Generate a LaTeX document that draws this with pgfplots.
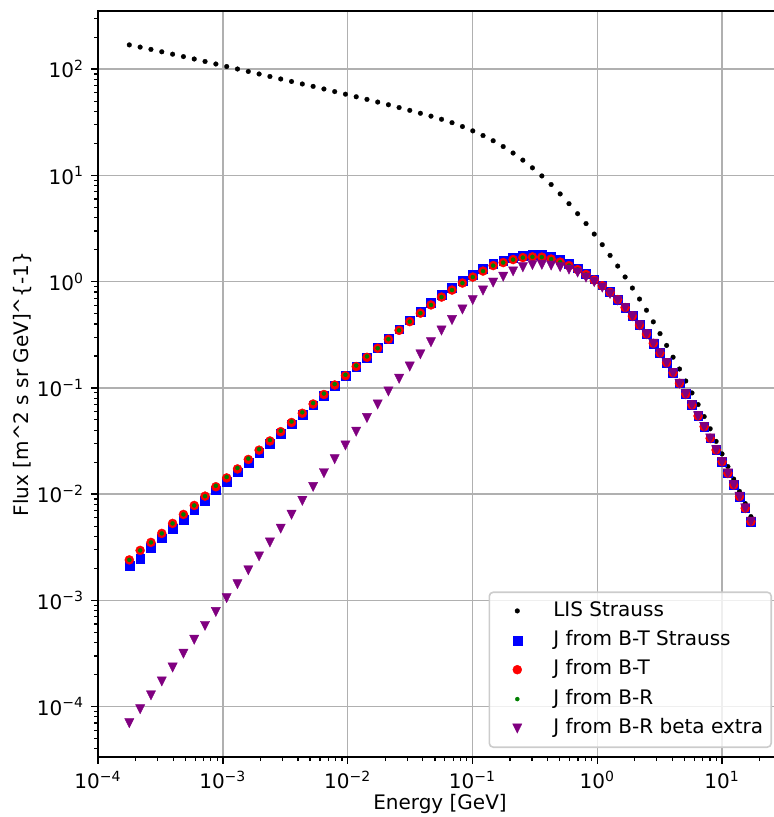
\documentclass[border=0pt]{standalone}
\usepackage{fontspec}
\setmainfont{DejaVu Sans}
\usepackage{pgfplots}
\pgfplotsset{compat=1.18}
\usepackage{pgfplotstable}
\usetikzlibrary{plotmarks}
\definecolor{gridc}{HTML}{B0B0B0}
\definecolor{legc}{HTML}{CCCCCC}
\definecolor{mblue}{rgb}{0,0,1}
\definecolor{mred}{rgb}{1,0,0}
\definecolor{mgreen}{rgb}{0,0.5,0}
\definecolor{mpurple}{rgb}{0.5,0,0.5}
\pgfdeclareplotmark{tridown}{%
  \pgfpathmoveto{\pgfqpoint{0pt}{-\pgfplotmarksize}}%
  \pgfpathlineto{\pgfqpoint{\pgfplotmarksize}{\pgfplotmarksize}}%
  \pgfpathlineto{\pgfqpoint{-\pgfplotmarksize}{\pgfplotmarksize}}%
  \pgfpathclose\pgfusepathqfillstroke}
\newcommand{\logtick}{\pgfmathtruncatemacro{\ee}{round(\tick)}10\textsuperscript{\ifnum\ee<0 −\number-\ee\else\ee\fi}}

\pgfplotstableread{
E LIS BTS BT BR BRB
1.782e-4 169.3 2.125e-3 2.404e-3 2.404e-3 6.996e-5
2.176e-4 161.4 2.458e-3 2.954e-3 2.954e-3 9.452e-5
2.656e-4 153.6 3.140e-3 3.512e-3 3.512e-3 1.277e-4
3.243e-4 145.8 3.847e-3 4.270e-3 4.270e-3 1.726e-4
3.960e-4 138.4 4.709e-3 5.303e-3 5.303e-3 2.332e-4
4.835e-4 131.4 5.778e-3 6.442e-3 6.442e-3 3.152e-4
5.901e-4 124.7 7.098e-3 7.826e-3 7.826e-3 4.259e-4
7.204e-4 118.2 8.685e-3 9.576e-3 9.576e-3 5.755e-4
8.794e-4 111.9 0.01088 0.01174 0.01197 7.776e-4
1.0736e-3 106.0 0.01317 0.01421 0.01449 1.051e-3
1.3106e-3 100.4 0.01611 0.01727 0.01762 1.420e-3
1.5999e-3 95.15 0.01986 0.02120 0.02162 1.919e-3
1.9530e-3 90.11 0.02446 0.02594 0.02646 2.594e-3
2.3839e-3 85.37 0.03005 0.03166 0.03229 3.505e-3
2.9097e-3 80.87 0.03699 0.03873 0.03950 4.736e-3
3.5512e-3 76.61 0.04544 0.04724 0.04818 6.400e-3
4.3340e-3 72.57 0.05585 0.05770 0.05885 8.650e-3
5.2890e-3 68.89 0.06873 0.07056 0.07197 0.01169
6.4533e-3 65.11 0.08503 0.08668 0.08841 0.01576
7.8729e-3 61.55 0.1051 0.1065 0.1086 0.02129
9.6033e-3 58.18 0.1294 0.1302 0.1328 0.02871
0.011712 55.00 0.1590 0.1590 0.1622 0.03873
0.014279 51.98 0.1940 0.1940 0.1979 0.05209
0.017404 49.03 0.2384 0.2363 0.2363 0.06981
0.021209 46.26 0.2921 0.2872 0.2872 0.09250
0.025832 43.53 0.3573 0.3482 0.3482 0.1218
0.031446 40.97 0.4343 0.4204 0.4204 0.1590
0.038257 38.47 0.5256 0.5054 0.5054 0.2071
0.046508 36.13 0.6302 0.6036 0.6036 0.2691
0.056489 33.78 0.7513 0.7162 0.7162 0.3467
0.068541 31.38 0.8746 0.8337 0.8337 0.4353
0.083063 28.84 1.0177 0.9701 0.9701 0.5464
0.10052 26.27 1.159 1.105 1.105 0.6712
0.12144 23.74 1.320 1.258 1.258 0.8248
0.14644 21.21 1.486 1.417 1.417 0.9806
0.17620 18.70 1.586 1.512 1.512 1.112
0.21148 16.25 1.693 1.614 1.614 1.250
0.25315 13.93 1.769 1.686 1.686 1.366
0.30213 11.79 1.795 1.711 1.711 1.433
0.35943 9.893 1.786 1.703 1.703 1.442
0.42665 8.212 1.712 1.632 1.632 1.417
0.50397 6.699 1.596 1.529 1.529 1.372
0.59310 5.418 1.469 1.417 1.417 1.299
0.69534 4.363 1.339 1.299 1.299 1.218
0.81210 3.520 1.194 1.166 1.166 1.093
0.94487 2.804 1.053 1.035 1.035 0.9913
1.0952 2.229 0.9251 0.9150 0.9150 0.8800
1.2649 1.767 0.7988 0.7932 0.7932 0.7677
1.4559 1.402 0.6785 0.6785 0.6785 0.6650
1.6701 1.107 0.5706 0.5706 0.5706 0.5669
1.9100 0.8707 0.4746 0.4746 0.4746 0.4717
2.1779 0.6861 0.3905 0.3905 0.3905 0.3880
2.4765 0.5383 0.3214 0.3214 0.3214 0.3193
2.8091 0.4185 0.2628 0.2628 0.2628 0.2605
3.1788 0.3242 0.2130 0.2130 0.2130 0.2112
3.5895 0.2511 0.1726 0.1726 0.1726 0.1708
4.0452 0.1945 0.1390 0.1390 0.1390 0.1375
4.5505 0.1506 0.1105 0.1105 0.1105 0.1095
5.1106 0.1161 0.08763 0.08763 0.08763 0.08706
5.7308 0.08972 0.06905 0.06905 0.06905 0.06877
6.4176 0.06965 0.05441 0.05441 0.05441 0.05417
7.1776 0.05370 0.04315 0.04315 0.04315 0.04296
8.0185 0.04122 0.03357 0.03357 0.03357 0.03342
8.9488 0.03138 0.02605 0.02605 0.02605 0.02594
9.9775 0.02393 0.02021 0.02021 0.02021 0.02013
11.115 0.01818 0.01573 0.01573 0.01573 0.01565
12.373 0.01387 0.01221 0.01221 0.01221 0.01218
13.763 0.01062 0.009473 0.009473 0.009473 0.009452
15.307 0.008157 0.007371 0.007371 0.007371 0.007353
17.006 0.006143 0.005512 0.005512 0.005512 0.005500
}\fluxdata

\begin{document}
\begin{tikzpicture}
\begin{axis}[
  name=ax,
  scale only axis, width=342pt, height=373pt,
  xmode=log, ymode=log, log basis x=10, log basis y=10,
  xmin=1e-4, xmax=30.17, ymin=3.354e-5, ymax=353.0,
  axis line style={black, line width=0.8pt},
  tick align=outside, tick pos=left,
  major tick length=3.5pt, minor tick length=2pt,
  every tick/.style={black, line width=0.8pt},
  every minor tick/.style={black, line width=0.6pt},
  grid=major, major grid style={gridc, line width=0.8pt},
  xtick={1e-4,1e-3,1e-2,1e-1,1,10},
  ytick={1e-4,1e-3,1e-2,1e-1,1,10,100},
  minor xtick={2e-4,3e-4,4e-4,5e-4,6e-4,7e-4,8e-4,9e-4,2e-3,3e-3,4e-3,5e-3,6e-3,7e-3,8e-3,9e-3,0.02,0.03,0.04,0.05,0.06,0.07,0.08,0.09,0.2,0.3,0.4,0.5,0.6,0.7,0.8,0.9,2,3,4,5,6,7,8,9,20,30},
  minor ytick={4e-5,5e-5,6e-5,7e-5,8e-5,9e-5,2e-4,3e-4,4e-4,5e-4,6e-4,7e-4,8e-4,9e-4,2e-3,3e-3,4e-3,5e-3,6e-3,7e-3,8e-3,9e-3,0.02,0.03,0.04,0.05,0.06,0.07,0.08,0.09,0.2,0.3,0.4,0.5,0.6,0.7,0.8,0.9,2,3,4,5,6,7,8,9,20,30,40,50,60,70,80,90,200,300},
  xticklabel={\logtick}, yticklabel={\logtick},
  xlabel={Energy [GeV]},
  ylabel={Flux [m\textasciicircum 2 s sr GeV]\textasciicircum\{-1\}},
  x label style={at={(axis description cs:0.5,-0.0710)}, anchor=base},
  y label style={at={(axis description cs:-0.1016,0.5)}, anchor=base},
  legend cell align=left,
  legend image code/.code={\path[draw=none,fill=none] (0pt,-3pt) rectangle (20pt,3pt); \draw[mark repeat=2,mark phase=2,#1,fill opacity=1,draw opacity=1] plot coordinates {(0pt,0pt) (10pt,0pt) (20pt,0pt)};},
  legend style={at={(axis description cs:1,0)}, anchor=south east, xshift=-5pt, yshift=4.5pt,
    draw=legc, line width=0.8pt, rounded corners=2pt, fill=white, fill opacity=0.8, text opacity=1,
    inner xsep=4pt, inner ysep=4.5pt, row sep=5pt,
    nodes={inner sep=0pt, text height=7.4pt, text depth=2.3pt},
    /tikz/every odd column/.append style={column sep=8pt}},
]
\addplot[only marks, mark=*, mark size=1.2pt, color=black, mark options={line width=0.1pt}] table[x=E,y=LIS]{\fluxdata};
\addlegendentry{LIS Strauss}
\addplot[only marks, mark=square*, mark size=2.2pt, color=mblue, mark options={line width=0.2pt}] table[x=E,y=BTS]{\fluxdata};
\addlegendentry{J from B-T Strauss}
\addplot[only marks, mark=*, mark size=2.25pt, color=mred, mark options={line width=0.2pt}] table[x=E,y=BT]{\fluxdata};
\addlegendentry{J from B-T}
\addplot[only marks, mark=*, mark size=1.05pt, color=mgreen, mark options={line width=0.1pt}] table[x=E,y=BR]{\fluxdata};
\addlegendentry{J from B-R}
\addplot[only marks, mark=tridown, mark size=2.3pt, color=mpurple, mark options={line width=0.2pt}] table[x=E,y=BRB]{\fluxdata};
\addlegendentry{J from B-R beta extra}
\end{axis}
\pgfresetboundingbox
\useasboundingbox ([shift={(-49pt,-30pt)}]ax.south west) rectangle ([shift={(338pt,378.5pt)}]ax.south west);
\end{tikzpicture}
\end{document}
